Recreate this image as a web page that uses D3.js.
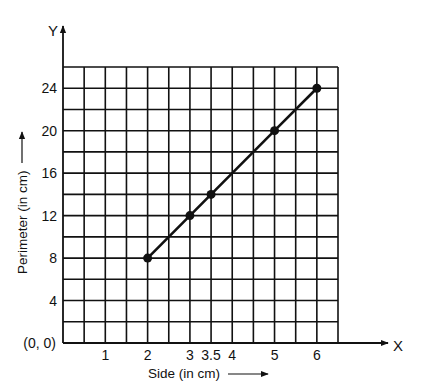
<!DOCTYPE html>
<html>
<head>
<meta charset="utf-8">
<script src="https://cdn.jsdelivr.net/npm/d3@7"></script>
<style>
  body { margin: 0; background: #fff; }
  text { font-family: "Liberation Sans", Arial, sans-serif; fill: #111; }
</style>
</head>
<body>
<script>
const sides = [2, 3, 3.5, 5, 6];
const perimeters = [8, 12, 14, 20, 24];
const xTickValues = [1, 2, 3, 3.5, 4, 5, 6];
const yTickValues = [4, 8, 12, 16, 20, 24];

const width = 424, height = 386;
const plotLeft = 63, plotRight = 338, plotTop = 67, plotBottom = 343;

const x = d3.scaleLinear().domain([0, 6.5]).range([plotLeft, plotRight]);
const y = d3.scaleLinear().domain([0, 26]).range([plotBottom, plotTop]);

const svg = d3.select("body").append("svg")
  .attr("width", width)
  .attr("height", height);

svg.append("defs").append("marker")
  .attr("id", "arr")
  .attr("viewBox", "0 0 10 10")
  .attr("refX", 9).attr("refY", 5)
  .attr("markerWidth", 8).attr("markerHeight", 8)
  .attr("markerUnits", "userSpaceOnUse")
  .attr("orient", "auto")
  .append("path")
  .attr("d", "M0,1 L10,5 L0,9 Z")
  .attr("fill", "#111");

// grid
const grid = svg.append("g").attr("stroke", "#111").attr("stroke-width", 1.6);
grid.selectAll("line.v")
  .data(d3.range(0.5, 6.51, 0.5))
  .join("line")
  .attr("class", "v")
  .attr("x1", d => x(d)).attr("x2", d => x(d))
  .attr("y1", y(26)).attr("y2", y(0));
grid.selectAll("line.h")
  .data(d3.range(2, 26.01, 2))
  .join("line")
  .attr("class", "h")
  .attr("x1", x(0)).attr("x2", x(6.5))
  .attr("y1", d => y(d)).attr("y2", d => y(d));

// axes with arrows
svg.append("line")
  .attr("x1", x(0)).attr("y1", y(0))
  .attr("x2", 388).attr("y2", y(0))
  .attr("stroke", "#111").attr("stroke-width", 1.8)
  .attr("marker-end", "url(#arr)");
svg.append("line")
  .attr("x1", x(0)).attr("y1", y(0))
  .attr("x2", x(0)).attr("y2", 26)
  .attr("stroke", "#111").attr("stroke-width", 1.8)
  .attr("marker-end", "url(#arr)");

svg.append("text").attr("x", 398).attr("y", 351)
  .attr("text-anchor", "middle").attr("font-size", 15).text("X");
svg.append("text").attr("x", 53).attr("y", 36)
  .attr("text-anchor", "middle").attr("font-size", 15).text("Y");

// tick labels
svg.selectAll("text.xt")
  .data(xTickValues)
  .join("text")
  .attr("class", "xt")
  .attr("x", d => x(d))
  .attr("y", 360)
  .attr("text-anchor", "middle")
  .attr("font-size", 14)
  .text(d => d);
svg.selectAll("text.yt")
  .data(yTickValues)
  .join("text")
  .attr("class", "yt")
  .attr("x", 57)
  .attr("y", d => y(d) + 5)
  .attr("text-anchor", "end")
  .attr("font-size", 14)
  .text(d => d);
svg.append("text").attr("x", 56).attr("y", y(0) + 5)
  .attr("text-anchor", "end").attr("font-size", 14).text("(0, 0)");

// axis titles
svg.append("text").attr("x", 148).attr("y", 378)
  .attr("font-size", 13.5).text("Side (in cm)");
svg.append("line")
  .attr("x1", 228).attr("y1", 374).attr("x2", 268).attr("y2", 374)
  .attr("stroke", "#111").attr("stroke-width", 1.2)
  .attr("marker-end", "url(#arr)");

svg.append("text")
  .attr("transform", "translate(27,274) rotate(-90)")
  .attr("font-size", 13.5).text("Perimeter (in cm)");
svg.append("line")
  .attr("x1", 22).attr("y1", 163).attr("x2", 22).attr("y2", 132)
  .attr("stroke", "#111").attr("stroke-width", 1.2)
  .attr("marker-end", "url(#arr)");

// data line and points
const pts = sides.map((s, i) => [s, perimeters[i]]);
svg.append("path")
  .datum(pts)
  .attr("fill", "none")
  .attr("stroke", "#111")
  .attr("stroke-width", 2.6)
  .attr("d", d3.line().x(d => x(d[0])).y(d => y(d[1])));
svg.selectAll("circle")
  .data(pts)
  .join("circle")
  .attr("cx", d => x(d[0]))
  .attr("cy", d => y(d[1]))
  .attr("r", 4.5)
  .attr("fill", "#111");
</script>
</body>
</html>
